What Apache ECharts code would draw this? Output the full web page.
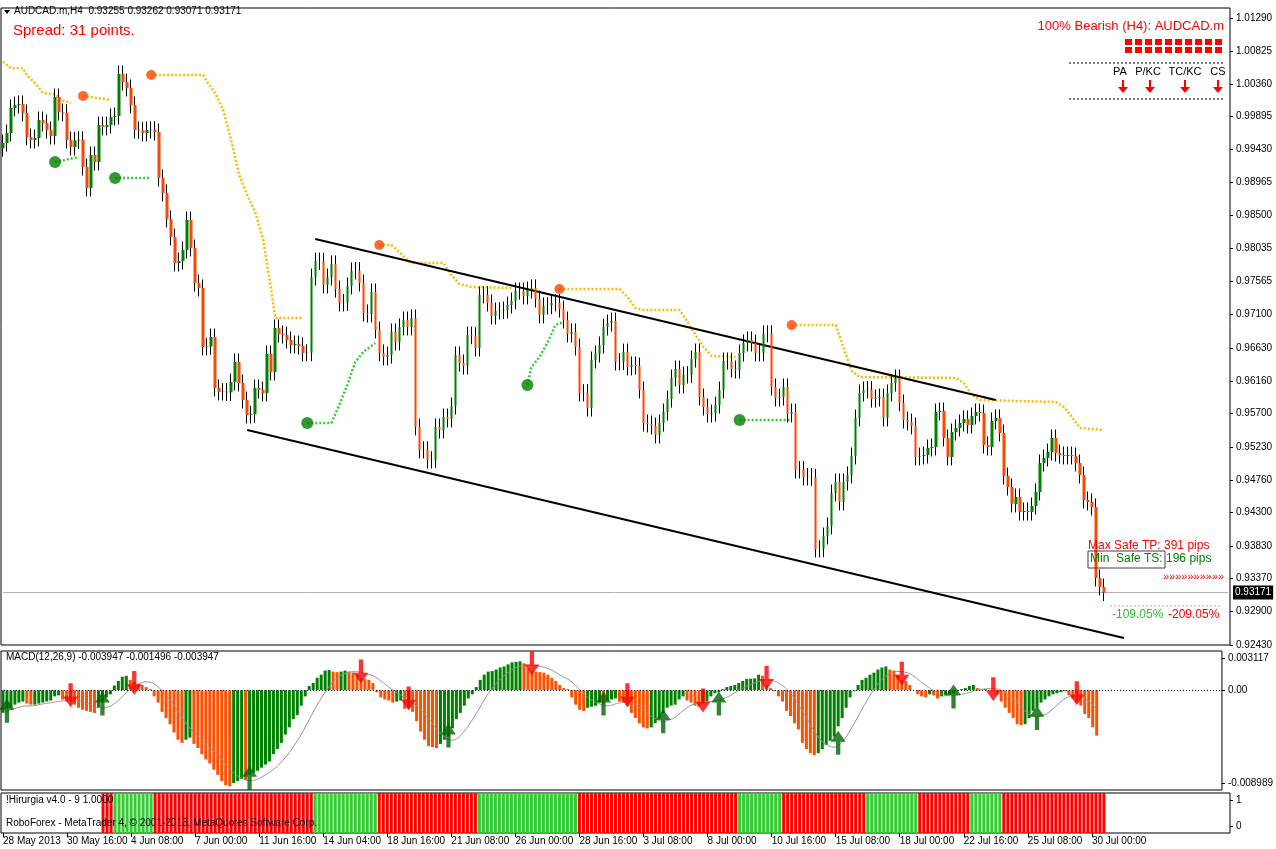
<!DOCTYPE html>
<html><head><meta charset="utf-8">
<script src="https://cdn.jsdelivr.net/npm/echarts@6/dist/echarts.min.js"></script>
<style>html,body{margin:0;padding:0;background:#fff}#c{width:1276px;height:849px}</style>
</head><body><div id="c"></div>
<script>
// ---------- DATA ----------
const closes = [
0.99523,0.99665,1.00018,1.00060,1.00075,0.99947,0.99608,0.99566,0.99594,0.99848,
0.99806,0.99707,0.99622,1.00173,0.99961,0.99950,0.99566,0.99467,0.99560,0.99570,
0.99184,0.98888,0.99354,0.99255,0.99778,0.99750,0.99778,0.99891,0.99905,1.00498,
1.00385,1.00301,1.00060,0.99707,0.99700,0.99665,0.99707,0.99712,0.99679,0.99029,
0.98817,0.98450,0.98195,0.97828,0.97856,0.98012,0.98435,0.98040,0.97545,0.97475,
0.96641,0.96650,0.96782,0.96062,0.96005,0.96010,0.96000,0.96146,0.96429,0.96132,
0.95892,0.95680,0.95690,0.96062,0.96033,0.95991,0.96542,0.96288,0.96909,0.96825,
0.96810,0.96740,0.96669,
0.96683,0.96655,0.96556,0.96560,0.97630,0.97856,0.97850,0.97517,0.97630,0.97814,
0.97460,0.97263,0.97270,0.97503,0.97715,0.97720,0.97545,0.97121,0.97107,0.97418,
0.96881,0.96556,0.96500,0.96528,0.96853,0.96712,0.96924,0.97022,0.96924,0.97051,
0.95511,0.95186,0.95190,0.95044,0.95050,0.95511,0.95468,0.95652,0.95624,0.95807,
0.96528,0.96415,0.96372,0.96810,0.96800,0.96627,0.97376,0.97380,0.97263,0.97079,
0.97150,0.97155,0.97164,0.97234,0.97291,0.97432,0.97430,0.97362,0.97446,0.97475,
0.97319,0.97093,0.97220,0.97225,0.97263,0.97268,0.97178,0.97022,0.96825,0.96853,
0.96641,0.95991,0.95995,0.95779,
0.96457,0.96542,0.96669,0.96924,0.96980,0.97008,0.96429,0.96435,0.96570,0.96358,
0.96387,0.96372,0.96033,0.95567,0.95553,0.95525,0.95397,0.95567,0.95722,0.95906,
0.96203,0.96330,0.96104,0.96245,0.96250,0.96471,0.96570,0.95934,0.95793,0.95694,
0.95708,0.95821,0.96033,0.96443,0.96440,0.96330,0.96316,0.96556,0.96697,0.96740,
0.96697,0.96556,0.96560,0.96825,0.96830,0.96076,0.95920,0.95934,0.96076,0.95694,
0.95722,0.94903,0.94910,0.94804,0.94810,0.94800,0.93787,0.93790,0.93970,0.94112,
0.94578,0.94733,0.94451,0.94733,0.94832,0.95101,0.95638,0.95991,0.96033,0.96040,
0.95906,0.95920,0.95934,0.95638,0.95991,0.96132,0.96203,0.95850,0.95609,0.95581,
0.95525,0.95087,0.95101,0.95115,0.95214,0.95228,0.95722,0.95737,0.95355,0.95087,
0.95440,0.95496,0.95567,0.95624,0.95539,0.95666,0.95722,0.95708,0.95256,0.95228,
0.95595,0.95638,0.95426,0.94818,0.94663,0.94423,0.94521,0.94309,0.94324,0.94309,
0.94394,0.94592,0.95002,0.95073,0.95157,0.95355,0.95143,0.95115,0.95101,0.95115,
0.95101,0.95002,0.94832,0.94479,0.94451,0.94380,0.93377,0.93250,0.93171];
const firstOpen = 0.99450;
const wick = 0.0012;

const macdHist = [
-0.0022,-0.0018,-0.0017,-0.0014,-0.0012,-0.0011,-0.0013,-0.0014,-0.0014,-0.0013,
-0.0012,-0.0011,-0.0010,-0.0006,-0.0005,-0.0009,-0.0011,-0.0012,-0.0014,-0.0017,
-0.0019,-0.0020,-0.0021,-0.0022,-0.0017,-0.0012,-0.0007,-0.0004,0.00045,0.0009,
0.0013,0.0014,0.0010,0.0008,0.0006,0.0005,0.0003,0.0001,-0.0006,-0.0012,
-0.0021,-0.0027,-0.0033,-0.0041,-0.0048,-0.0051,-0.0048,-0.0046,-0.0052,-0.0056,
-0.0062,-0.0067,-0.0071,-0.0077,-0.0082,-0.0088,-0.0092,-0.0093,-0.0090,-0.0088,
-0.0086,-0.0087,-0.0082,-0.0080,-0.0078,-0.0075,-0.0072,-0.0069,-0.0062,-0.0057,
-0.0051,-0.0043,-0.0036,-0.0028,-0.0024,-0.0015,-0.0006,0.0004,0.0007,0.0012,
0.0015,0.0019,0.00195,0.0018,0.00175,0.0018,0.0019,0.0018,0.0017,0.0015,
0.0012,0.0011,0.0010,0.0007,-0.0002,-0.0007,-0.0009,-0.0010,-0.0012,-0.0011,
-0.0010,-0.0018,-0.0017,-0.0021,-0.0030,-0.0040,-0.0048,-0.0054,-0.0055,-0.0056,
-0.0052,-0.0048,-0.0045,-0.0037,-0.0028,-0.0022,-0.0015,-0.0008,-0.0004,0.0003,
0.0010,0.0015,0.0018,0.00185,0.0020,0.0022,0.0023,0.0025,0.0027,0.00275,
0.0028,0.0026,0.0021,0.0019,0.0018,0.00175,0.0017,0.0015,0.0012,0.0009,
0.0005,0.0002,0.0001,-0.0007,-0.0014,-0.0019,-0.0020,-0.0017,-0.0016,-0.0015,
-0.0012,-0.0013,-0.0010,-0.0009,-0.0008,-0.0011,-0.0012,-0.0015,-0.0022,-0.0027,
-0.0032,-0.0036,-0.0037,-0.0036,-0.0032,-0.0027,-0.0022,-0.0017,-0.0015,-0.0014,
-0.0009,-0.0006,-0.0010,-0.0012,-0.0015,-0.0016,-0.0013,-0.0011,-0.0006,-0.0003,
-0.0002,0.0001,0.0003,0.0004,0.0005,0.0007,0.0009,0.0011,0.00112,0.00114,
0.0015,0.0014,0.0005,0.0002,-0.0001,-0.0006,-0.0011,-0.0020,-0.0025,-0.0032,
-0.0038,-0.0051,-0.0057,-0.0061,-0.0063,-0.0061,-0.0057,-0.0053,-0.0049,-0.0045,
-0.0035,-0.0027,-0.0017,-0.0007,-0.0001,0.0005,0.0010,0.0012,0.0015,0.0017,
0.0020,0.0022,0.0023,0.0020,0.0019,0.0015,0.0010,0.0009,0.0005,0.0000,
-0.0004,-0.0006,-0.0007,-0.0004,-0.0005,-0.0008,-0.0006,-0.0005,-0.0004,-0.0003,
-0.0001,0.0001,0.0002,0.0004,0.0005,0.0002,0.0001,0.0001,0.00005,0.0,
-0.0004,-0.0011,-0.0017,-0.0022,-0.0027,-0.0033,-0.0034,-0.0033,-0.0027,-0.0020,
-0.0017,-0.0012,-0.0009,-0.0006,-0.0004,-0.0003,-0.0002,-0.0001,-0.0005,-0.0008,
-0.0012,-0.0015,-0.0023,-0.0027,-0.0036,-0.0044];
const signalPeriod = 9;

const macdUpArrows = [[1,-0.0020],[25,-0.0013],[62,-0.0085],[112,-0.0044],[151,-0.0013],[166,-0.0030],[180,-0.0013],[210,-0.0051],[239,-0.0006],[260,-0.0027]];
const macdDownArrows = [[17,-0.0005],[33,0.0007],[90,0.0018],[102,-0.0008],[133,0.0026],[157,-0.0005],[176,-0.0010],[192,0.0012],[226,0.0016],[249,0.0001],[270,-0.0003]];

// Hirurgia runs: [startIdx, endIdx, state(1 bull, 0 bear)]
const hirurgiaRuns = [[25,27,0],[28,37,1],[38,77,0],[78,93,1],[94,118,0],[119,143,1],[144,183,0],[184,194,1],[195,215,0],[216,228,1],[229,241,0],[242,249,1],[250,275,0]];

// trailing stop (yellow) segments and start dots
const stopSegs = [
 [[0,1.0067],[2,1.0058],[5,1.0058],[6,1.0048],[8,1.0037],[10,1.0023],[13,1.0021],[15,1.0012],[17,1.0009]],
 [[20,1.00188],[27,1.00131]],
 [[37,1.00484],[50,1.00484],[51,1.00385],[53,1.0023],[55,0.9999],[57,0.99566],[59,0.99071],[61,0.98789],[63,0.98548],[65,0.98152],[67,0.97446],[68,0.97051],[75,0.97051]],
 [[94,0.98082],[97,0.98082],[99,0.97983],[101,0.9787],[102,0.97828],[110,0.97828],[112,0.97658],[114,0.97531],[117,0.97489],[127,0.97475]],
 [[139,0.97461],[154,0.97461],[156,0.97347],[158,0.97192],[160,0.97164],[169,0.97164],[171,0.96994],[173,0.9681],[175,0.96641],[177,0.96514],[183,0.965]],
 [[197,0.96952],[208,0.96952],[210,0.96627],[212,0.96302],[214,0.96217],[238,0.96203],[240,0.96132],[242,0.95963],[244,0.95892],[263,0.95864],[265,0.95793],[267,0.95652],[269,0.95496],[275,0.95468]]
];
const stopDots = [[20,1.00188],[37,1.00484],[94,0.98082],[139,0.97461],[197,0.96952]];
const supportSegs = [
 [[13,0.99255],[19,0.99326]],
 [[28,0.99029],[37,0.99029]],
 [[76,0.95567],[82,0.95567],[84,0.95821],[86,0.96104],[88,0.96429],[90,0.9657],[93,0.96697]],
 [[131,0.96104],[132,0.96358],[134,0.965],[136,0.96697],[138,0.96952],[140,0.96994]],
 [[184,0.95609],[197,0.95609]]
];
const supportDots = [[13,0.99255],[28,0.99029],[76,0.95567],[131,0.96104],[184,0.95609]];
const channelUpper = [[78,0.98167],[248,0.95892]];
const channelLower = [[61,0.95468],[280,0.92529]];

const priceTicks = [1.01290,1.00825,1.00360,0.99895,0.99430,0.98965,0.98500,0.98035,0.97565,0.97100,0.96630,0.96160,0.95700,0.95230,0.94760,0.94300,0.93830,0.93370,0.92900,0.92430];
const macdTicks = [0.003117,0,-0.008989];
const dateLabels = ['28 May 2013','30 May 16:00','4 Jun 08:00','7 Jun 00:00','11 Jun 16:00','14 Jun 04:00','18 Jun 16:00','21 Jun 08:00','26 Jun 00:00','28 Jun 16:00','3 Jul 08:00','8 Jul 00:00','10 Jul 16:00','15 Jul 08:00','18 Jul 00:00','22 Jul 16:00','25 Jul 08:00','30 Jul 00:00'];
const labelStep = 16;
const lastPrice = 0.93171;

// ---------- BUILD ----------
const N = 307;
const cats = Array.from({length:N},(_,i)=>String(i));
const wickData=[], bodyData=[];
closes.forEach((c,i)=>{
  const o = i? closes[i-1] : firstOpen;
  const hi=Math.max(o,c), lo=Math.min(o,c);
  wickData.push([o,c,lo-wick,hi+wick]);
  bodyData.push([o,c,lo,hi]);
});
const histData = macdHist.map((v,i)=>({value:v,itemStyle:{color:(i===0||v>=macdHist[i-1])?'#008000':'#FF5000'}}));
const signal = macdHist.map((v,i)=>{let s=0,n=0;for(let k=Math.max(0,i-signalPeriod+1);k<=i;k++){s+=macdHist[k];n++;}return s/n;});
const hirData = [];
hirurgiaRuns.forEach(r=>{for(let i=r[0];i<=r[1];i++)hirData.push({value:[i,1],itemStyle:{color:r[2]?'#33CC33':'#FF0000'}});});

const F='Liberation Sans';
const upPath='path://M7,0 L14,9 L9,9 L9,20 L5,20 L5,9 L0,9 Z';
const dnPath='path://M5,0 L9,0 L9,11 L14,11 L7,20 L0,11 L5,11 Z';
const gridStyle={show:true,borderColor:'#000',borderWidth:1,backgroundColor:'#fff'};
const showIdx=(i)=>i%labelStep===0&&i/labelStep<dateLabels.length;
function xa(g,show){return {type:'category',gridIndex:g,data:cats,boundaryGap:true,
  axisLine:{show:false},splitLine:{show:false},
  axisTick:{show:show,interval:showIdx,length:4,lineStyle:{color:'#000'},alignWithLabel:true},
  axisLabel:{show:show,interval:showIdx,formatter:(v)=>dateLabels[(+v)/labelStep]||'',align:'left',fontFamily:F,fontSize:10,color:'#000',margin:3}};}
const lineS=(d,color,w,type)=>({type:'line',data:d,xAxisIndex:0,yAxisIndex:0,symbol:'none',lineStyle:{color,width:w,type:type||'solid'},silent:true,z:3});
const series=[];
const priceLine=lineS([[0,lastPrice],[N-1,lastPrice]],'#B0B0B0',1);
priceLine.z=1;
priceLine.endLabel={show:true,formatter:()=>lastPrice.toFixed(5),backgroundColor:'#000',color:'#fff',fontFamily:F,fontSize:10,padding:[2,2],distance:5};
series.push(priceLine);
stopSegs.forEach(s=>series.push(lineS(s,'#FFB800',2.5,[2,2])));
supportSegs.forEach(s=>series.push(lineS(s,'#33CC33',2.5,[2,2])));
series.push(lineS(channelUpper,'#000',2));
series.push(lineS(channelLower,'#000',2));
series.push({type:'candlestick',data:wickData,barWidth:1,itemStyle:{color:'#000',color0:'#000',borderColor:'#000',borderColor0:'#000',borderWidth:1},z:4});
series.push({type:'candlestick',data:bodyData,barWidth:3,itemStyle:{color:'#008000',color0:'#FF4500',borderColor:'#008000',borderColor0:'#FF4500',borderWidth:0},z:5});
series.push({type:'scatter',data:stopDots,symbolSize:10,itemStyle:{color:'#FF4500'},z:6});
series.push({type:'scatter',data:supportDots,symbolSize:12,itemStyle:{color:'#008000'},z:6});
series.push({type:'bar',data:histData,xAxisIndex:1,yAxisIndex:1,barWidth:3,z:2,
  markLine:{symbol:'none',silent:true,data:[{yAxis:0}],lineStyle:{color:'#000',type:[1,2],width:1},label:{show:false}}});
series.push({type:'line',data:signal,xAxisIndex:1,yAxisIndex:1,symbol:'none',smooth:true,lineStyle:{color:'#909090',width:1},z:3});
series.push({type:'scatter',data:macdUpArrows,xAxisIndex:1,yAxisIndex:1,symbol:upPath,symbolSize:[15,24],itemStyle:{color:'#006400'},z:5});
series.push({type:'scatter',data:macdDownArrows,xAxisIndex:1,yAxisIndex:1,symbol:dnPath,symbolSize:[15,24],itemStyle:{color:'#FF0000'},z:5});
series.push({type:'bar',data:hirData,xAxisIndex:2,yAxisIndex:2,barWidth:3,z:2});

const yLab={fontFamily:F,fontSize:10,color:'#000',margin:6};
const txt=(x,y,t,font,fill,align)=>({type:'text',x:x,y:y,z:100,style:{text:t,font:font,fill:fill,textAlign:align||'left',textVerticalAlign:'top'}});
const graphics=[
  {type:'polygon',z:100,shape:{points:[[4,10],[10,10],[7,14]]},style:{fill:'#000'}},
  txt(14,6,'AUDCAD.m,H4  0.93255 0.93262 0.93071 0.93171','10px '+F,'#000'),
  txt(13,23,'Spread: 31 points.','15px '+F,'#FF0000'),
  txt(1224,20,'100% Bearish (H4): AUDCAD.m','13px '+F,'#FF0000','right'),
  {type:'line',z:100,shape:{x1:1069,y1:63,x2:1224,y2:63},style:{stroke:'#000',lineDash:[2,2]}},
  {type:'line',z:100,shape:{x1:1069,y1:99,x2:1224,y2:99},style:{stroke:'#000',lineDash:[2,2]}},
  txt(1088,540,'Max Safe TP: 391 pips','12px '+F,'#FF0000'),
  {type:'rect',z:100,shape:{x:1088,y:551,width:77,height:17},style:{fill:'none',stroke:'#404040',lineWidth:1}},
  txt(1090,553,'Min  Safe TS: 196 pips','12px '+F,'#008000'),
  txt(1163,571,'»»»»»»»»»»','11px '+F,'#FF0000'),
  {type:'line',z:100,shape:{x1:1110,y1:606,x2:1222,y2:606},style:{stroke:'#B0B0B0',lineDash:[2,2]}},
  txt(1112,609,'-109.05%','12px '+F,'#33BB33'),
  txt(1168,609,'-209.05%','12px '+F,'#FF0000'),
  txt(6,652,'MACD(12,26,9) -0.003947 -0.001496 -0.003947','10px '+F,'#000'),
  txt(6,795,'!Hirurgia v4.0 - 9 1.0000','10px '+F,'#000'),
  txt(6,818,'RoboForex - MetaTrader 4, © 2001-2013, MetaQuotes Software Corp.','10px '+F,'#000')
];
for(let k=0;k<20;k++)graphics.push({type:'rect',z:100,shape:{x:1125+(k%10)*10,y:(k<10?39:47),width:7,height:6},style:{fill:'#FF0000'}});
[['PA',1120],['P/KC',1148],['TC/KC',1185],['CS',1218]].forEach(a=>graphics.push(txt(a[1],66,a[0],'11px '+F,'#000','center')));
[1123,1150,1185,1218].forEach(x=>graphics.push({type:'polygon',z:100,shape:{points:[[x-1,80],[x+1,80],[x+1,87],[x+5,87],[x,93],[x-5,87],[x-1,87]]},style:{fill:'#FF0000'}}));

const opt={animation:false,backgroundColor:'#fff',
 grid:[Object.assign({left:1,right:46,top:8,height:637},gridStyle),
       Object.assign({left:1,right:46,top:651,height:139},gridStyle),
       Object.assign({left:1,right:46,top:793,height:40},gridStyle)],
 xAxis:[xa(0,false),xa(1,false),xa(2,true)],
 yAxis:[
  {type:'value',gridIndex:0,position:'right',min:0.9243,max:1.01431,splitLine:{show:false},axisLine:{show:false},
   axisTick:{show:true,customValues:priceTicks,length:3,lineStyle:{color:'#000'}},axisLabel:Object.assign({customValues:priceTicks,formatter:v=>v.toFixed(5)},yLab)},
  {type:'value',gridIndex:1,position:'right',min:-0.009667,max:0.003795,splitLine:{show:false},axisLine:{show:false},
   axisTick:{show:true,customValues:macdTicks,length:3,lineStyle:{color:'#000'}},axisLabel:Object.assign({customValues:macdTicks,formatter:v=>v===0?'0.00':String(v)},yLab)},
  {type:'value',gridIndex:2,position:'right',min:0,max:1,show:false},
  {type:'value',gridIndex:2,position:'right',min:-0.28,max:1.28,splitLine:{show:false},axisLine:{show:false},
   axisTick:{show:true,customValues:[0,1],length:3,lineStyle:{color:'#000'}},axisLabel:Object.assign({customValues:[0,1]},yLab)}
 ],
 series,
 graphic:graphics
};
echarts.init(document.getElementById('c')).setOption(opt);
</script></body></html>
